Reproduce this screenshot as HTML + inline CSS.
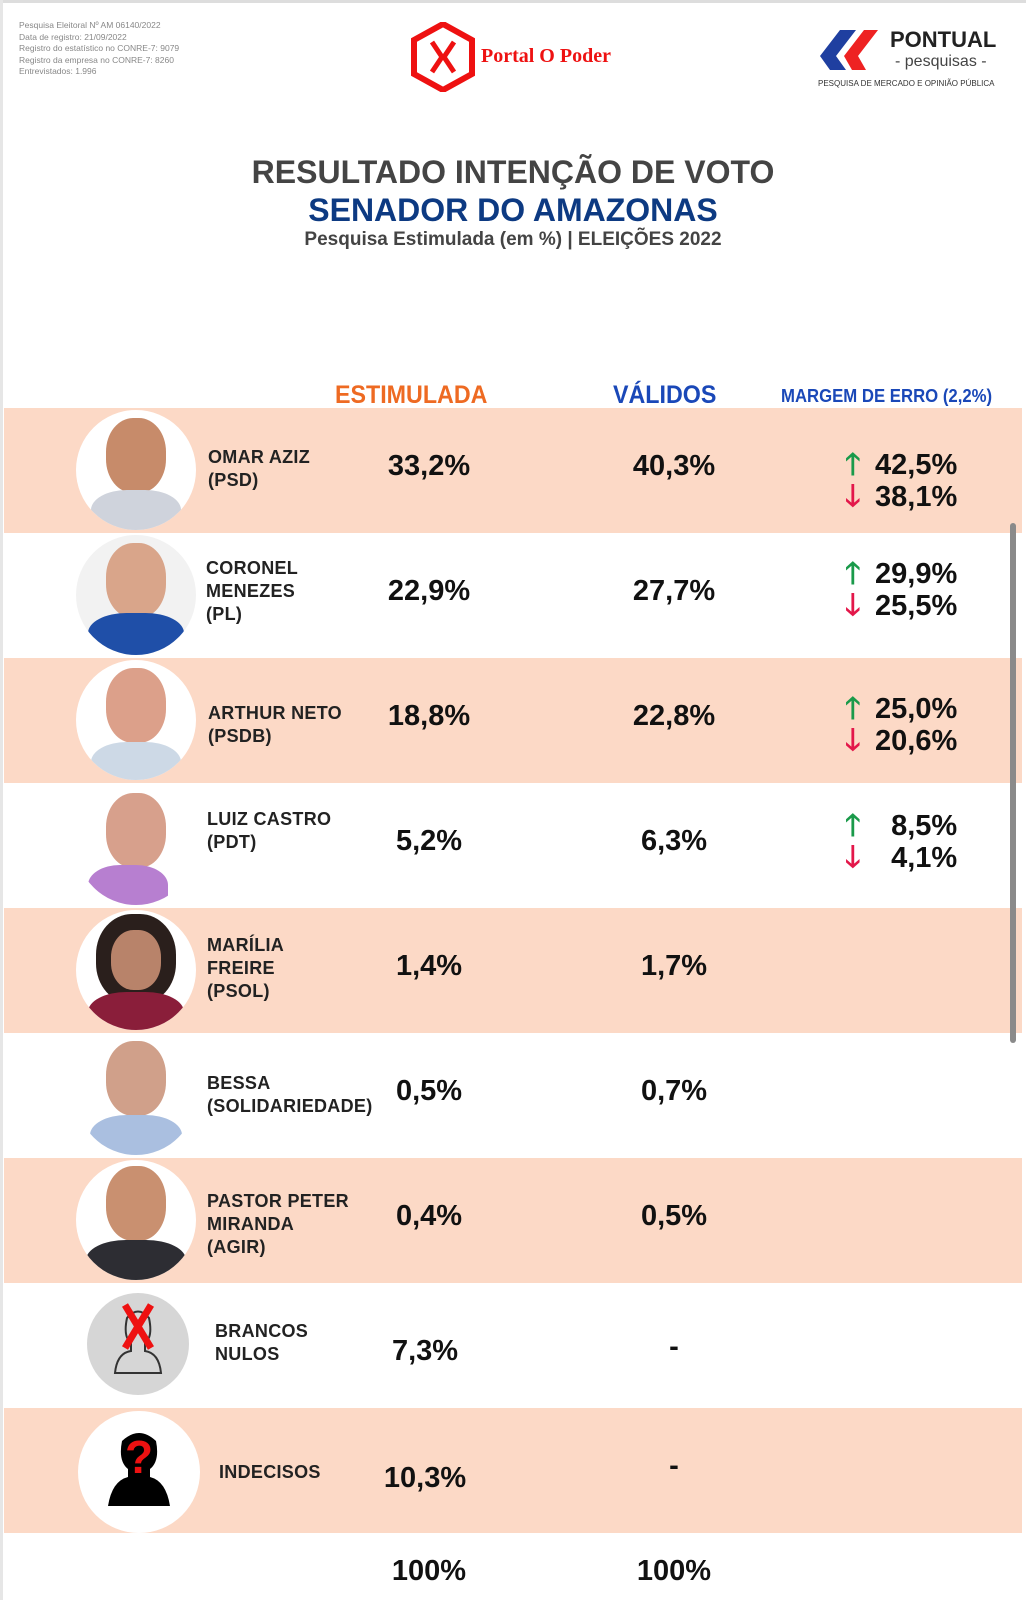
<!DOCTYPE html>
<html><head><meta charset="utf-8"><style>
*{margin:0;padding:0;box-sizing:border-box}
body{width:1026px;height:1600px;background:#fff;position:relative;overflow:hidden;font-family:"Liberation Sans",sans-serif}
.a{position:absolute}
.row{position:absolute;left:4px;width:1018px;height:125px}
.pk{background:#fcd9c6}
.nm{position:absolute;font-weight:bold;font-size:18px;line-height:23px;color:#222;letter-spacing:.3px}
.v{position:absolute;font-weight:bold;font-size:29px;color:#111;width:160px;text-align:center;margin-left:-80px}
.m{position:absolute;font-weight:bold;font-size:29px;color:#111;line-height:32px}
.m span{display:inline-block;width:30px;font-size:30px}
.ph{position:absolute;width:120px;height:120px;border-radius:50%;background:#f2f2f2;overflow:hidden}
.up{color:#1a9a4a}.dn{color:#e3174a}
.c{text-align:center;position:absolute;left:0;width:1026px}
</style></head><body>
<div class="a" style="left:0;top:0;width:1026px;height:3px;background:#ddd"></div>
<div class="a" style="left:0;top:0;width:3px;height:1600px;background:#e6e6e6"></div>
<div class="a" style="left:19px;top:20px;font-size:8.5px;line-height:11.5px;color:#888">Pesquisa Eleitoral Nº AM 06140/2022<br>Data de registro: 21/09/2022<br>Registro do estatístico no CONRE-7: 9079<br>Registro da empresa no CONRE-7: 8260<br>Entrevistados: 1.996</div>
<svg class="a" style="left:410px;top:22px" width="66" height="70" viewBox="0 0 66 70"><polygon points="33,2 62,18 62,52 33,68 4,52 4,18" fill="none" stroke="#e11" stroke-width="6"/><path d="M22,20 L32,35 L22,50 M44,20 L34,35 L44,50" fill="none" stroke="#e11" stroke-width="5"/></svg>
<div class="a" style="left:481px;top:45px;font-family:'Liberation Serif',serif;font-weight:bold;font-size:20px;color:#e11">Portal O Poder</div>
<svg class="a" style="left:818px;top:26px" width="62" height="48"><polygon points="2,30 22,4 38,4 18,30 28,44 12,44" fill="#1f3fa0"/><polygon points="26,30 46,4 60,4 40,30 48,44 34,44" fill="#e22"/></svg>
<div class="a" style="left:890px;top:27px;font-weight:bold;font-size:22px;color:#222">PONTUAL</div>
<div class="a" style="left:895px;top:53px;font-size:16px;color:#444">- pesquisas -</div>
<div class="a" style="left:818px;top:79px;font-size:8px;color:#333">PESQUISA DE MERCADO E OPINIÃO PÚBLICA</div>
<div class="c" style="top:154px;font-weight:bold;font-size:32px;color:#444"><span style="display:inline-block;transform:scaleX(1.0)">RESULTADO INTENÇÃO DE VOTO</span></div>
<div class="c" style="top:192px;font-weight:bold;font-size:32px;color:#0d3a82"><span style="display:inline-block;transform:scaleX(1.0)">SENADOR DO AMAZONAS</span></div>
<div class="c" style="top:229px;font-weight:bold;font-size:19px;color:#444"><span style="display:inline-block;transform:scaleX(1.0)">Pesquisa Estimulada (em %) | ELEIÇÕES 2022</span></div>
<div class="a" style="left:335px;top:381px;font-weight:bold;font-size:25px;color:#ee6a22"><span style="display:inline-block;transform:scaleX(.93);transform-origin:left">ESTIMULADA</span></div>
<div class="a" style="left:613px;top:381px;font-weight:bold;font-size:25px;color:#1a48b8"><span style="display:inline-block;transform:scaleX(.93);transform-origin:left">VÁLIDOS</span></div>
<div class="a" style="left:781px;top:386px;font-weight:bold;font-size:18px;color:#1a48b8"><span style="display:inline-block;transform:scaleX(.93);transform-origin:left;white-space:nowrap">MARGEM DE ERRO (2,2%)</span></div>

<div class="row pk" style="top:408px"></div>
<div class="row" style="top:533px"></div>
<div class="row pk" style="top:658px"></div>
<div class="row" style="top:783px"></div>
<div class="row pk" style="top:908px"></div>
<div class="row" style="top:1033px"></div>
<div class="row pk" style="top:1158px"></div>
<div class="row" style="top:1283px"></div>
<div class="row pk" style="top:1408px"></div>

<div class="ph" style="left:76px;top:410px;background:#fff"><div class="a" style="left:30px;top:8px;width:60px;height:75px;border-radius:45%;background:#c78b6a"></div><div class="a" style="left:15px;top:80px;width:90px;height:50px;border-radius:40%;background:#cfd3dc"></div></div>
<div class="ph" style="left:76px;top:535px"><div class="a" style="left:30px;top:8px;width:60px;height:75px;border-radius:45%;background:#d9a58a"></div><div class="a" style="left:12px;top:78px;width:96px;height:50px;border-radius:40%;background:#1f4fa8"></div></div>
<div class="ph" style="left:76px;top:660px;background:#fff"><div class="a" style="left:30px;top:8px;width:60px;height:75px;border-radius:45%;background:#dca08a"></div><div class="a" style="left:15px;top:82px;width:90px;height:50px;border-radius:40%;background:#cdd9e6"></div></div>
<div class="ph" style="left:76px;top:785px;background:#fff"><div class="a" style="left:30px;top:8px;width:60px;height:75px;border-radius:45%;background:#d7a08c"></div><div class="a" style="left:12px;top:80px;width:80px;height:50px;border-radius:40%;background:#b77fd0"></div></div>
<div class="ph" style="left:76px;top:910px;background:#fff"><div class="a" style="left:20px;top:4px;width:80px;height:90px;border-radius:45%;background:#2a1f1c"></div><div class="a" style="left:35px;top:20px;width:50px;height:60px;border-radius:45%;background:#b8836a"></div><div class="a" style="left:12px;top:82px;width:96px;height:50px;border-radius:40%;background:#8a1e3a"></div></div>
<div class="ph" style="left:76px;top:1035px;background:#fff"><div class="a" style="left:30px;top:6px;width:60px;height:75px;border-radius:45%;background:#d0a08a"></div><div class="a" style="left:14px;top:80px;width:92px;height:50px;border-radius:40%;background:#aabfe0"></div></div>
<div class="ph" style="left:76px;top:1160px;background:#fff"><div class="a" style="left:30px;top:6px;width:60px;height:75px;border-radius:45%;background:#c99070"></div><div class="a" style="left:10px;top:80px;width:100px;height:50px;border-radius:40%;background:#2d2d33"></div></div>
<div class="ph" style="left:87px;top:1293px;width:102px;height:102px;background:#d6d6d6"><svg width="102" height="102"><path d="M28,80 Q30,60 44,58 L44,50 Q36,44 40,25 Q51,12 62,25 Q66,44 58,50 L58,58 Q72,60 74,80 Z" fill="none" stroke="#333" stroke-width="2"/><path d="M38,12 L64,55 M64,12 L38,55" stroke="#e11" stroke-width="7"/></svg></div>
<div class="ph" style="left:78px;top:1411px;width:122px;height:122px;background:#fff"><svg width="122" height="122"><path d="M30,95 Q34,70 50,66 L50,58 Q40,50 44,30 Q61,14 78,30 Q82,50 72,58 L72,66 Q88,70 92,95 Z" fill="#000"/><text x="61" y="62" text-anchor="middle" font-family="Liberation Sans" font-weight="bold" font-size="46" fill="#e11">?</text></svg></div>

<div class="nm" style="left:208px;top:446px">OMAR AZIZ<br>(PSD)</div>
<div class="nm" style="left:206px;top:557px">CORONEL<br>MENEZES<br>(PL)</div>
<div class="nm" style="left:208px;top:702px">ARTHUR NETO<br>(PSDB)</div>
<div class="nm" style="left:207px;top:808px">LUIZ CASTRO<br>(PDT)</div>
<div class="nm" style="left:207px;top:934px">MARÍLIA<br>FREIRE<br>(PSOL)</div>
<div class="nm" style="left:207px;top:1072px">BESSA<br>(SOLIDARIEDADE)</div>
<div class="nm" style="left:207px;top:1190px">PASTOR PETER<br>MIRANDA<br>(AGIR)</div>
<div class="nm" style="left:215px;top:1320px">BRANCOS<br>NULOS</div>
<div class="nm" style="left:219px;top:1461px">INDECISOS</div>

<div class="v" style="left:429px;top:450px">33,2%</div><div class="v" style="left:674px;top:450px">40,3%</div>
<div class="v" style="left:429px;top:575px">22,9%</div><div class="v" style="left:674px;top:575px">27,7%</div>
<div class="v" style="left:429px;top:700px">18,8%</div><div class="v" style="left:674px;top:700px">22,8%</div>
<div class="v" style="left:429px;top:825px">5,2%</div><div class="v" style="left:674px;top:825px">6,3%</div>
<div class="v" style="left:429px;top:950px">1,4%</div><div class="v" style="left:674px;top:950px">1,7%</div>
<div class="v" style="left:429px;top:1075px">0,5%</div><div class="v" style="left:674px;top:1075px">0,7%</div>
<div class="v" style="left:429px;top:1200px">0,4%</div><div class="v" style="left:674px;top:1200px">0,5%</div>
<div class="v" style="left:425px;top:1335px">7,3%</div><div class="v" style="left:674px;top:1331px">-</div>
<div class="v" style="left:425px;top:1462px">10,3%</div><div class="v" style="left:674px;top:1450px">-</div>
<div class="v" style="left:429px;top:1555px">100%</div><div class="v" style="left:674px;top:1555px">100%</div>

<div class="m" style="left:845px;top:449px"><span class="up">🡑</span>42,5%<br><span class="dn">🡓</span>38,1%</div>
<div class="m" style="left:845px;top:558px"><span class="up">🡑</span>29,9%<br><span class="dn">🡓</span>25,5%</div>
<div class="m" style="left:845px;top:693px"><span class="up">🡑</span>25,0%<br><span class="dn">🡓</span>20,6%</div>
<div class="m" style="left:845px;top:810px"><span class="up">🡑</span>&nbsp;&nbsp;8,5%<br><span class="dn">🡓</span>&nbsp;&nbsp;4,1%</div>

<div class="a" style="left:1010px;top:523px;width:6px;height:520px;border-radius:3px;background:#8a8a8a"></div>
</body></html>
